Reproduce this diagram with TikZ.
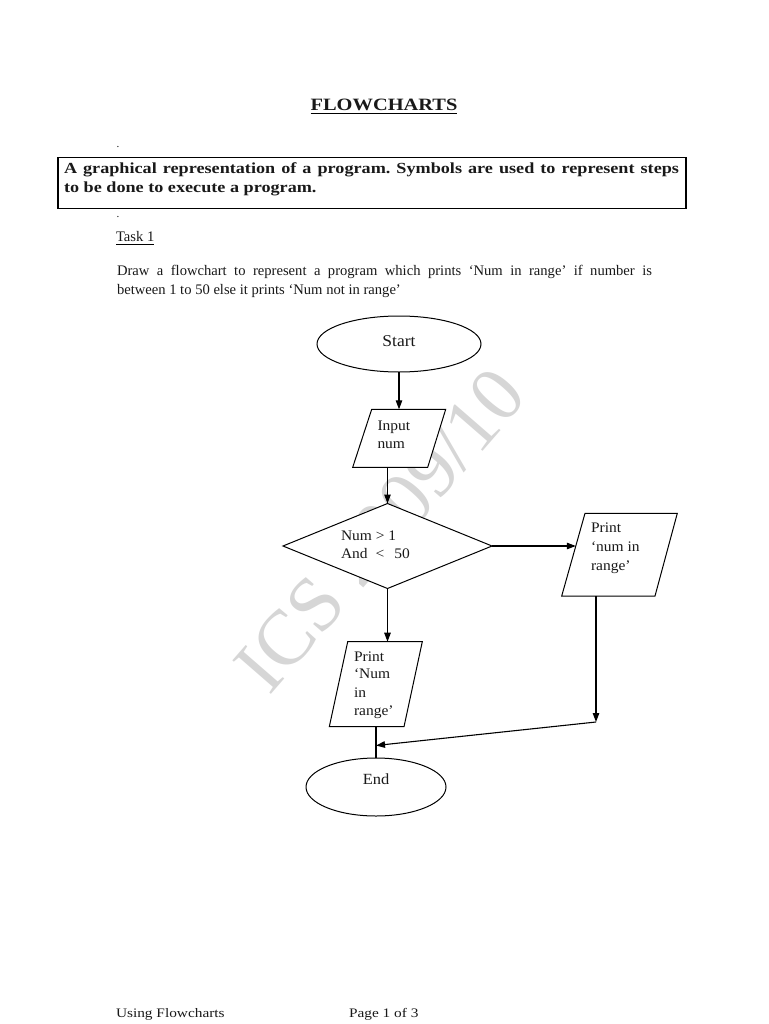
\documentclass[tikz,border=0pt]{standalone}
\usepackage{fontspec}
\setmainfont{Liberation Serif}[FakeStretch=1.06]
\newfontfamily\docfont{Liberation Serif}[FakeStretch=1.18]
\newfontfamily\taskfont{Liberation Serif}
\usetikzlibrary{shapes.geometric,arrows.meta,calc}
\frenchspacing
\begin{document}
\begin{tikzpicture}[x=1pt,y=-1pt,
  every node/.style={inner sep=0pt, outer sep=0pt, text=black!90},
  flow/.style={draw=black, fill=white, line width=1pt, line join=miter},
  flowtxt/.style={anchor=base west, font=\fontsize{14.6}{17}\selectfont},
  doctxt/.style={anchor=base west, font=\docfont\fontsize{13}{15}\selectfont},
  tasktxt/.style={anchor=base west, font=\taskfont\fontsize{14.6}{18}\selectfont},
  boxtxt/.style={anchor=base west, font=\docfont\bfseries\fontsize{15.4}{19}\selectfont},
  arr/.style={-{Triangle[length=9pt,width=6.5pt]}, line width=1.1pt},
  link/.style={line width=1.1pt}
]
\fill[white] (0,0) rectangle (768,1024);
\useasboundingbox (0,0) rectangle (768,1024);

% watermark
\node[text=black!16, font=\taskfont\fontsize{78}{78}\selectfont, rotate=49] (wm) at (380,530) {ICS 2009/10};

% title
\node[anchor=base, font=\docfont\bfseries\fontsize{17.3}{20}\selectfont] (title) at (384,110.7) {FLOWCHARTS};
\draw[line width=1.4pt] ($(title.base west)+(0,2.8)$) -- ($(title.base east)+(0,2.8)$);

\node[tasktxt, font=\taskfont\fontsize{11}{12}\selectfont] (dot1) at (116.5,148) {.};
\node[tasktxt, font=\taskfont\fontsize{11}{12}\selectfont] (dot2) at (116.5,218) {.};

% definition box
\node[draw=black, line width=1.1pt, minimum width=628pt, minimum height=51pt, anchor=north west] (defbox) at (58,157.5) {};
\node[boxtxt] (def1) at (64,173.3) {\makebox[615pt][s]{A graphical representation of a program. Symbols are used to represent steps}};
\node[boxtxt] (def2) at (64,192.5) {to be done to execute a program.};

% task
\node[tasktxt] (task) at (116,241.5) {Task 1};
\draw[line width=0.9pt] ($(task.base west)+(0,2.5)$) -- ($(task.base east)+(0,2.5)$);
\node[tasktxt] (desc1) at (117,275) {\makebox[535pt][s]{Draw a flowchart to represent a program which prints ‘Num in range’ if number is}};
\node[tasktxt] (desc2) at (117,294) {between 1 to 50 else it prints ‘Num not in range’};

% flowchart shapes
\node[flow, ellipse, minimum width=164pt, minimum height=56pt] (start) at (399,344) {};
\node[anchor=base, font=\fontsize{16.5}{18}\selectfont] (starttxt) at (399,346) {Start};

% input parallelogram
\draw[flow] (371.7,409.3) -- (445.7,409.3) -- (427.7,467.3) -- (352.7,467.3) -- cycle;
\coordinate (input-n) at (399,409.3);
\coordinate (input-s) at (387.5,467.3);
\node[flowtxt] (in1) at (377.5,430) {Input};
\node[flowtxt] (in2) at (377.5,448) {num};

\node[flow, diamond, minimum width=209pt, minimum height=85pt] (dia) at (387.5,546) {};
\node[flowtxt] (d1) at (341,540) {Num > 1};
\node[flowtxt] (d2) at (341,558) {And\hspace{8pt}<\hspace{10pt}50};

% right print parallelogram
\draw[flow] (585,513.3) -- (677.3,513.3) -- (655,596) -- (561.7,596) -- cycle;
\coordinate (pr1-w) at (575.8,546);
\coordinate (pr1-s) at (596,596);
\node[flowtxt] (p11) at (591,532.7) {Print};
\node[flowtxt] (p12) at (591,551.7) {‘num in};
\node[flowtxt] (p13) at (591,570) {range’};

% lower print parallelogram
\draw[flow] (347.7,641.7) -- (422.3,641.7) -- (404,726.7) -- (329.3,726.7) -- cycle;
\coordinate (pr2-n) at (387.5,641.7);
\coordinate (pr2-s) at (376,726.7);
\node[flowtxt] (p21) at (354,661) {Print};
\node[flowtxt] (p22) at (354,678.5) {‘Num};
\node[flowtxt] (p23) at (354,697) {in};
\node[flowtxt] (p24) at (354,715) {range’};

\node[flow, ellipse, minimum width=140pt, minimum height=58pt] (stop) at (376,787) {};
\node[anchor=base, font=\fontsize{15.5}{17}\selectfont] (stoptxt) at (376,784) {End};

% connectors
\coordinate (j1) at (596,722);
\coordinate (j2) at (376,745.5);
\draw[arr] (start.south) -- (input-n);
\draw[arr] (input-s) -- (dia.north);
\draw[arr] (dia.east) -- (pr1-w);
\draw[arr] (pr1-s) -- (j1);
\draw[arr] (j1) -- (j2);
\draw[arr] (dia.south) -- (pr2-n);
\draw[link] (pr2-s) -- (stop.north);

% footer
\node[doctxt] (foot1) at (116,1017) {Using Flowcharts};
\node[doctxt] (foot2) at (349,1017) {Page 1 of 3};
\end{tikzpicture}
\end{document}
